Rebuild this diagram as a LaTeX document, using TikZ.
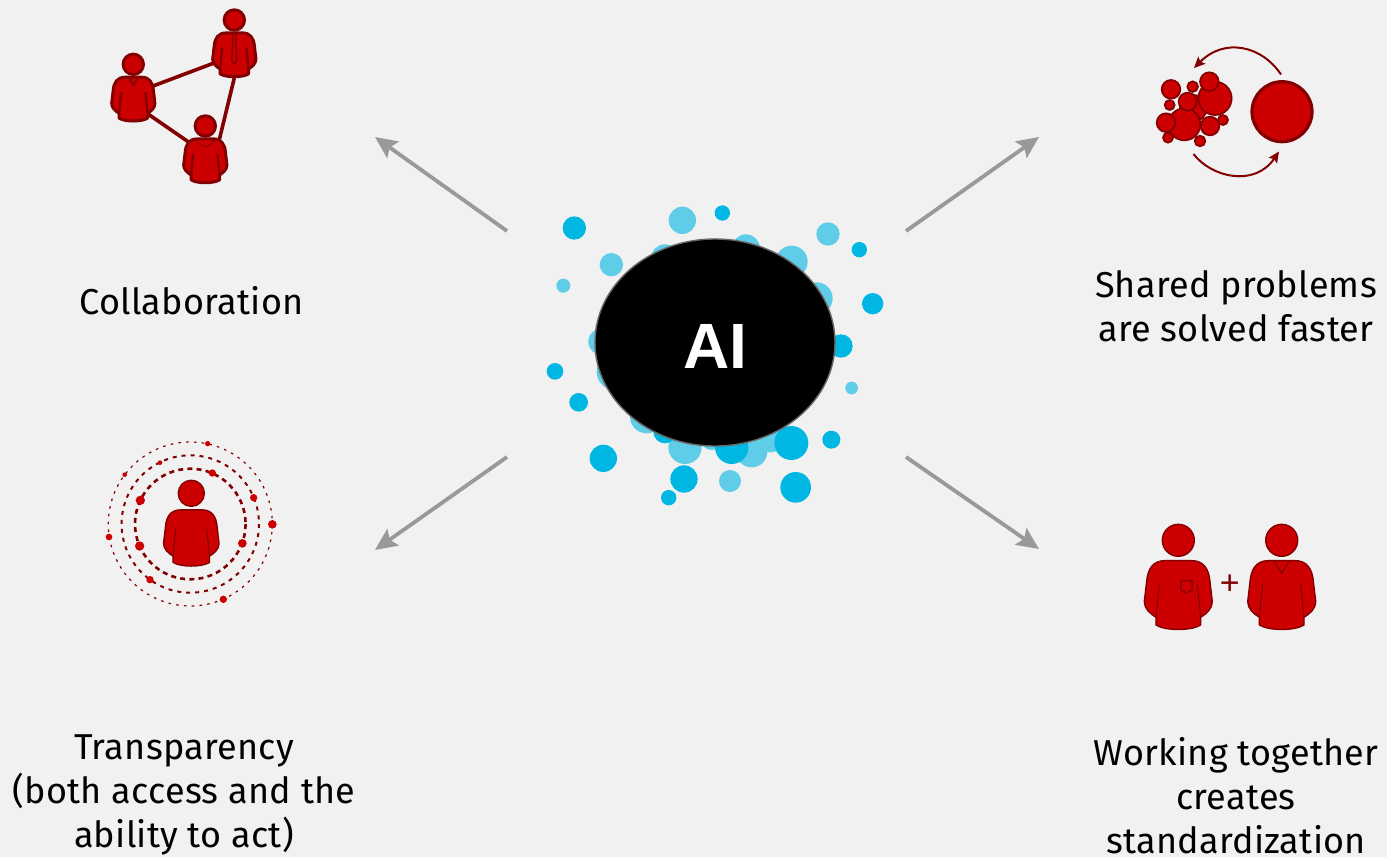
\documentclass[tikz,border=0pt]{standalone}
\usepackage{fontspec}
\setmainfont{Fira Sans}[LetterSpace=0.8]
\newfontfamily\hubfont{Liberation Sans}
\usetikzlibrary{arrows.meta,shapes.geometric}
\definecolor{bg}{HTML}{F1F1F1}
\definecolor{ired}{HTML}{CC0000}
\definecolor{idark}{HTML}{820000}
\definecolor{bdark}{HTML}{00B7E3}
\definecolor{blight}{HTML}{60CDE8}
\definecolor{agray}{HTML}{999999}
\tikzset{
  label/.style={font=\fontsize{36}{44}\selectfont,align=center,text=black,inner sep=0pt},
  flow/.style={draw=agray,line width=3.8pt,-{Stealth[length=22pt,width=20pt,inset=4pt]}},
  link/.style={draw=idark,line width=3.6pt},
  pfill/.style={fill=ired,draw=idark,line join=round},
  ring/.style={draw=idark,fill=none},
  orbit/.style={fill=ired},
  ball/.style={fill=ired,draw=idark,line width=1.7pt},
  turn/.style={draw=idark,line width=2pt,-{Stealth[length=11pt,width=10pt,inset=2pt]}},
  person/.pic={
    \path[pfill] (0,0) circle[radius=48];
    \path[pfill] (-40,61) .. controls (-75,61) and (-92,85) .. (-95,124)
      -- (-102,184) .. controls (-102,205) and (-85,220) .. (-67,231) -- (-67,254)
      .. controls (-40,272) and (40,272) .. (67,254) -- (67,231)
      .. controls (85,220) and (102,205) .. (102,184) -- (95,124)
      .. controls (92,85) and (75,61) .. (40,61) -- cycle;
    \draw[idark] (-57,131) -- (-67,231) (57,131) -- (67,231);
  },
}
\begin{document}
\begin{tikzpicture}[x=1pt,y=-1pt]
\useasboundingbox[fill=bg] (0,0) rectangle (1387,857);
% bubbles
\foreach \x/\y/\r in {442/76/41,879/117/35,229/209/35,85/272/21,633/160/42,770/200/48,390/190/42,845/310/48,200/440/40,240/530/55,335/665/50,450/757/50,650/770/47,705/725/47,530/730/35,585/858/33,950/579/19}
  \fill[blight] ({535+\x/3},{195+\y/3}) circle[radius=\r/3];
\foreach \x/\y/\r in {118/99/35,562/54/23,973/164/23,1013/326/32,918/453/35,60/529/25,131/622/28,205/790/41,447/852/41,401/908/23,782/877/46,889/734/27,769/744/51,590/757/50,390/710/35}
  \fill[bdark] ({535+\x/3},{195+\y/3}) circle[radius=\r/3];
\node[shape=ellipse,draw=black!60,line width=1.4pt,fill=black,minimum width=240pt,minimum height=207pt,inner sep=0pt] (hub) at (715,342.5) {};
\node[font=\fontsize{64}{64}\selectfont\hubfont\bfseries,text=white,inner sep=0pt] (ai) at (715,346) {AI};
% arrows
\coordinate (a1s) at (507,231); \coordinate (a1e) at (375,137);
\coordinate (a2s) at (906,231); \coordinate (a2e) at (1039,137);
\coordinate (a3s) at (507,457); \coordinate (a3e) at (375,550);
\coordinate (a4s) at (906,457); \coordinate (a4e) at (1039,549);
\draw[flow] (a1s) -- (a1e);
\draw[flow] (a2s) -- (a2e);
\draw[flow] (a3s) -- (a3e);
\draw[flow] (a4s) -- (a4e);
% collaboration
\coordinate (l1a) at (153,86); \coordinate (l1b) at (214,63);
\coordinate (l2a) at (148,114); \coordinate (l2b) at (190,143);
\coordinate (l3a) at (234.3,78); \coordinate (l3b) at (219,141);
\draw[link] (l1a) -- (l1b);
\draw[link] (l2a) -- (l2b);
\draw[link] (l3a) -- (l3b);
\begin{scope}[pfill/.append style={line width=3pt},line width=2.2pt]
\pic[scale=.212] at (133.3,64.3) {person};
\pic[scale=.212] at (234.3,20) {person};
\pic[scale=.212] at (205.3,126) {person};
\end{scope}
\begin{scope}[shift={(133.3,64.3)},scale=.212]
\draw[idark,line width=1.4pt] (-23,63) -- (0,98) -- (23,63);
\end{scope}
\begin{scope}[shift={(234.3,20)},scale=.212]
\path[draw=idark,line width=1.3pt] (-9,65) -- (-6,90) -- (-12,190) -- (0,208) -- (12,190) -- (6,90) -- (9,65);
\end{scope}
\begin{scope}[shift={(205.3,126)},scale=.212]
\draw[idark,line width=1.6pt,dash pattern=on 1.5pt off 1.5pt] (-45,65) .. controls (-20,105) and (20,105) .. (45,65);
\end{scope}
% shared problems
\foreach \x/\y/\r in {160/220/40,225/190/50,133/268/48,208/140/28,93/163/28,158/155/16,143/200/27,89/210/15,78/263/28,84/308/15,210/273/28,249/255/15,180/318/16}
  \path[ball] ({1140+\x/3},{35+\y/3}) circle[radius=\r/3];
\path[ball,line width=3.2pt] (1282,111.7) circle[radius=30];
\coordinate (t1) at (1281,74.5); \coordinate (t2) at (1194,68);
\coordinate (b1) at (1193.5,154); \coordinate (b2) at (1279,151.5);
\draw[turn] (t1) .. controls (1262,46) and (1225,37) .. (t2);
\draw[turn] (b1) .. controls (1212,178) and (1255,187) .. (b2);
% transparency
\draw[ring,line width=2.6pt,dash pattern=on 5pt off 4.2pt] (190.3,524) circle[radius=55.3];
\draw[ring,line width=2pt,dash pattern=on 4pt off 5pt] (190.3,524) circle[radius=68.7];
\draw[ring,line width=1.2pt,dash pattern=on 2.6pt off 5.2pt] (190.3,524) circle[radius=82];
\foreach \x/\y/\r in {338/41/8,89/134/7,195/98/7,352/129/11,136/211/14,476/203/11,532/283/13,42/321/10,134/348/14,442/340/13,165/449/11,385/508/11}
  \fill[orbit] ({95+\x/3},{430+\y/3}) circle[radius=\r/3];
\begin{scope}[pfill/.append style={line width=1.4pt},line width=1pt]
\pic[scale=.272] at (191.3,493.3) {person};
% working together
\pic[scale=.3333] at (1178.3,540.3) {person};
\pic[scale=.3333] at (1281.7,540.3) {person};
\end{scope}
\draw[idark,line width=1.1pt,line join=round] (1180.7,580.7) -- (1192,580.7) -- (1192,590) -- (1186.5,592.5) -- (1180.7,590) -- cycle;
\begin{scope}[shift={(1281.7,540.3)},scale=.3333]
\draw[idark,line width=1.1pt,line join=round] (-23,63) -- (0,98) -- (23,63);
\end{scope}
\node[font=\fontsize{34}{34}\selectfont\hubfont,text=idark,inner sep=0pt] (plus) at (1229.7,585) {+};
% labels
\node[label] (c) at (191.5,301) {Collaboration};
\node[label] (s) at (1236,306) {Shared problems\\are solved faster};
\node[label] (t) at (184,795) {Transparency\\(both access and the\\ability to act)};
\node[label] (w) at (1236,796) {Working together\\creates\\standardization};
\end{tikzpicture}
\end{document}
